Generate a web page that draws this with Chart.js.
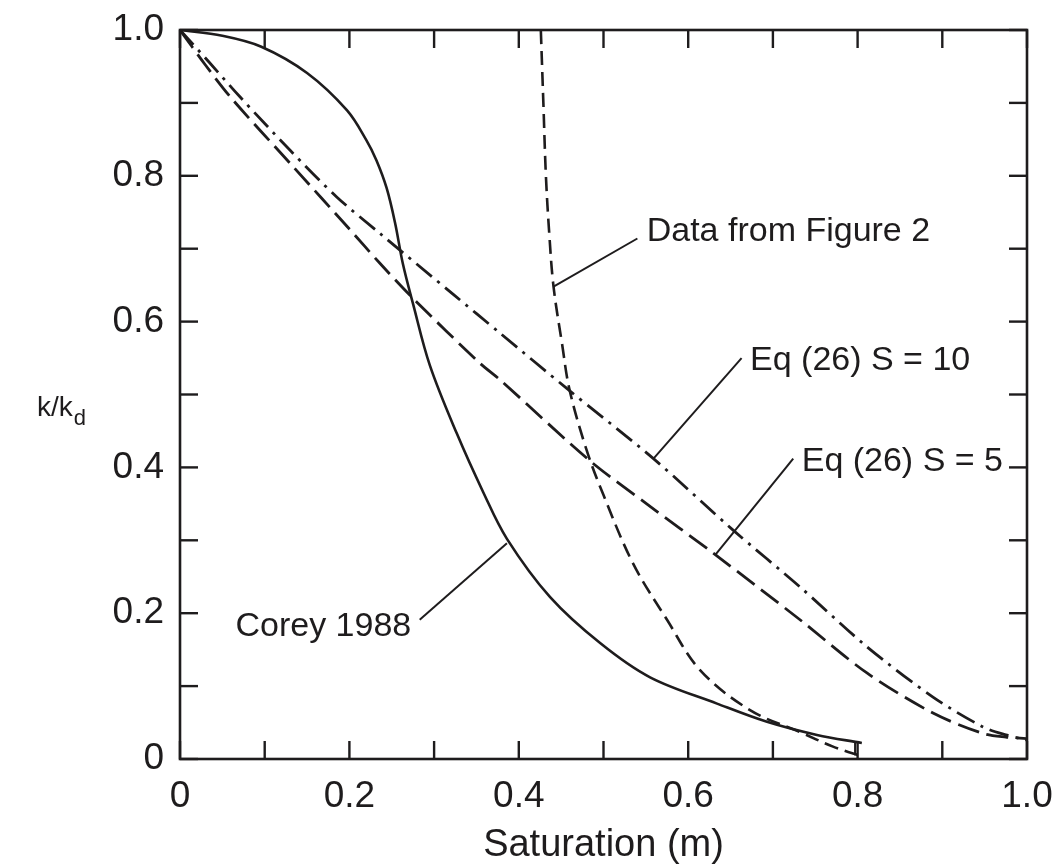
<!DOCTYPE html>
<html><head><meta charset="utf-8">
<script src="https://cdn.jsdelivr.net/npm/chart.js@4/dist/chart.umd.min.js"></script>
<style>html,body{margin:0;padding:0;background:#fff;}#wrap{width:1060px;height:868px;}</style>
</head><body><div id="wrap"><canvas id="c" width="1060" height="868"></canvas></div>
<script>
// ---- data ----
const xTickLabels = ['0','0.2','0.4','0.6','0.8','1.0'];
const yTickLabels = ['0','0.2','0.4','0.6','0.8','1.0'];

const coreyX = [0, 0.05, 0.096, 0.15, 0.197, 0.22, 0.232, 0.244, 0.254, 0.263, 0.275, 0.295, 0.327, 0.358, 0.386, 0.437, 0.496, 0.555, 0.634, 0.693, 0.752, 0.805];
const coreyY = [1.0, 0.992, 0.977, 0.941, 0.89, 0.849, 0.821, 0.783, 0.735, 0.680, 0.625, 0.540, 0.446, 0.366, 0.302, 0.222, 0.159, 0.112, 0.076, 0.051, 0.033, 0.022];

const fig2X = [0.426, 0.429, 0.432, 0.436, 0.441, 0.451, 0.46, 0.48, 0.5, 0.535, 0.575, 0.614, 0.673, 0.732, 0.771, 0.807];
const fig2Y = [1.0, 0.9, 0.8, 0.72, 0.648, 0.57, 0.506, 0.424, 0.362, 0.268, 0.191, 0.122, 0.067, 0.037, 0.017, 0.003];

const s10X = [0, 0.035, 0.071, 0.13, 0.185, 0.236, 0.323, 0.378, 0.457, 0.559, 0.653, 0.732, 0.811, 0.889, 0.948, 0.975, 1.0];
const s10Y = [1.0, 0.955, 0.908, 0.835, 0.771, 0.721, 0.637, 0.584, 0.508, 0.412, 0.314, 0.236, 0.154, 0.085, 0.044, 0.033, 0.026];

const s5X = [0, 0.03, 0.061, 0.134, 0.2, 0.236, 0.275, 0.354, 0.378, 0.483, 0.551, 0.63, 0.732, 0.811, 0.889, 0.948, 0.975, 1.0];
const s5Y = [1.0, 0.952, 0.906, 0.812, 0.727, 0.68, 0.632, 0.543, 0.52, 0.41, 0.35, 0.282, 0.191, 0.118, 0.063, 0.035, 0.03, 0.028];

// leader lines (data coordinates of both ends)
const leaderFig2X = [0.441, 0.540];  const leaderFig2Y = [0.648, 0.714];
const leaderS10X  = [0.559, 0.663];  const leaderS10Y  = [0.412, 0.550];
const leaderS5X   = [0.632, 0.724];  const leaderS5Y   = [0.280, 0.412];
const leaderCorX  = [0.386, 0.283];  const leaderCorY  = [0.296, 0.191];
const endBarX     = [0.797, 0.797];  const endBarY     = [0.005, 0.022];

const labelTexts = ['Data from Figure 2', 'Eq (26) S = 10', 'Eq (26) S = 5', 'Corey 1988'];
const labelX = [0.551, 0.673, 0.734, 0.273];
const labelY = [0.723, 0.547, 0.408, 0.182];
const labelAlign = ['left', 'left', 'left', 'right'];

// ---- build ----
const INK = '#1e1c1d';
const FONT = '"Liberation Sans", Arial, Helvetica, sans-serif';
const pts = (xs, ys) => xs.map((x, i) => ({x: x, y: ys[i]}));

function curve(xs, ys, dash, width, tension) {
  return {data: pts(xs, ys), showLine: true, borderColor: INK, borderWidth: width || 2.6,
    borderDash: dash, pointRadius: 0, fill: false, tension: tension};
}
function leader(xs, ys) {
  return {data: pts(xs, ys), showLine: true, borderColor: INK, borderWidth: 2, pointRadius: 0, fill: false, tension: 0};
}

const framePlugin = {
  id: 'frame',
  afterDraw(chart) {
    const {ctx, chartArea: a, scales: {x, y}} = chart;
    ctx.save();
    ctx.strokeStyle = INK; ctx.lineWidth = 2.6; ctx.lineCap = 'butt';
    ctx.strokeRect(a.left, a.top, a.right - a.left, a.bottom - a.top);
    const L = 18;
    ctx.lineWidth = 2.4;
    x.ticks.forEach(t => {
      const px = x.getPixelForValue(t.value);
      ctx.beginPath(); ctx.moveTo(px, a.bottom); ctx.lineTo(px, a.bottom - L); ctx.stroke();
      ctx.beginPath(); ctx.moveTo(px, a.top); ctx.lineTo(px, a.top + L); ctx.stroke();
    });
    y.ticks.forEach(t => {
      const py = y.getPixelForValue(t.value);
      ctx.beginPath(); ctx.moveTo(a.left, py); ctx.lineTo(a.left + L, py); ctx.stroke();
      ctx.beginPath(); ctx.moveTo(a.right, py); ctx.lineTo(a.right - L, py); ctx.stroke();
    });
    // annotation labels
    ctx.fillStyle = INK;
    ctx.font = '34px ' + FONT;
    ctx.textBaseline = 'middle';
    labelTexts.forEach((s, i) => {
      ctx.textAlign = labelAlign[i];
      ctx.fillText(s, x.getPixelForValue(labelX[i]), y.getPixelForValue(labelY[i]));
    });
    // y axis title k/k_d
    ctx.textAlign = 'left'; ctx.textBaseline = 'alphabetic';
    ctx.font = '28px ' + FONT;
    const tx = 37, ty = 416;
    ctx.fillText('k/k', tx, ty);
    const w = ctx.measureText('k/k').width;
    ctx.font = '22px ' + FONT;
    ctx.fillText('d', tx + w + 1, ty + 9);
    ctx.restore();
  }
};

new Chart(document.getElementById('c'), {
  type: 'scatter',
  data: {datasets: [
    curve(coreyX, coreyY, [], 2.6, 0.35),
    curve(fig2X, fig2Y, [14, 7], 2.6, 0.35),
    curve(s5X, s5Y, [22, 8], 2.8, 0.3),
    curve(s10X, s10Y, [20, 7, 3, 7], 2.8, 0.3),
    leader(leaderFig2X, leaderFig2Y),
    leader(leaderS10X, leaderS10Y),
    leader(leaderS5X, leaderS5Y),
    leader(leaderCorX, leaderCorY),
    leader(endBarX, endBarY)
  ]},
  options: {
    responsive: false, animation: false, devicePixelRatio: 1,
    layout: {padding: {left: 0, right: 33, top: 30, bottom: 0}},
    plugins: {legend: {display: false}, tooltip: {enabled: false}},
    scales: {
      x: {type: 'linear', min: 0, max: 1,
        afterFit(s) { s.height = 109; s.paddingLeft = 0; s.paddingRight = 0; },
        grid: {display: false, drawTicks: false}, border: {display: false},
        ticks: {stepSize: 0.1, autoSkip: false, maxRotation: 0, padding: 16, color: INK,
          font: {size: 37, family: FONT},
          callback: (v, i) => (i % 2 === 0 ? xTickLabels[i / 2] : '')},
        title: {display: true, text: 'Saturation (m)', color: INK, font: {size: 38, family: FONT}, padding: {top: 0, bottom: 0}}
      },
      y: {type: 'linear', min: 0, max: 1,
        afterFit(s) { s.width = 180; s.paddingTop = 0; s.paddingBottom = 0; },
        grid: {display: false, drawTicks: false}, border: {display: false},
        ticks: {stepSize: 0.1, autoSkip: false, padding: 16, color: INK,
          font: {size: 37, family: FONT},
          callback: (v, i) => (i % 2 === 0 ? yTickLabels[i / 2] : '')}
      }
    }
  },
  plugins: [framePlugin]
});
</script></body></html>
